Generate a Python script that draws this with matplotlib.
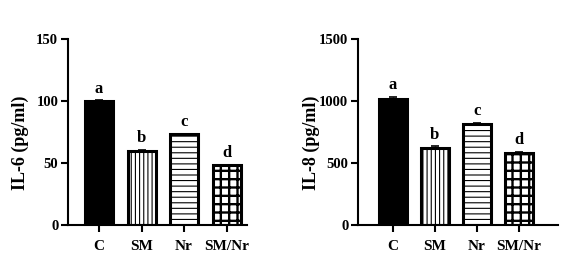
import matplotlib
matplotlib.use("Agg")
import matplotlib.pyplot as plt
import numpy as np

plt.rcParams['font.family'] = ['Liberation Serif', 'DejaVu Serif']
plt.rcParams['font.weight'] = 'bold'

categories = ["C", "SM", "Nr", "SM/Nr"]
il6_values = [100, 60, 73, 48]
il6_err = [0.6, 0.6, 0.6, 0.5]
il8_values = [1018, 625, 815, 583]
il8_err = [14, 10, 8, 5]
letters = ["a", "b", "c", "d"]
hatches = ["", "||||", "---", "++"]
hatch_lw = [1.0, 0.8, 0.8, 1.7]
facecolors = ["black", "white", "white", "white"]

fig = plt.figure(figsize=(5.8, 2.72), dpi=100)
ax1 = fig.add_axes([68/580, 1-225/272, 179/580, 186/272])
ax2 = fig.add_axes([358/580, 1-225/272, 200/580, 186/272])

def draw(ax, vals, errs, ymax, yticks, ylabel, xlim, label_off, ylab_x):
    x = np.arange(len(categories))
    for i in range(len(categories)):
        plt.rcParams['hatch.linewidth'] = hatch_lw[i]
        bars = ax.bar(x[i], vals[i], width=0.66, color=facecolors[i], edgecolor="black",
                      linewidth=2.2, hatch=hatches[i], zorder=2)
        for b in bars:
            try:
                b.set_hatch_linewidth(hatch_lw[i])
            except Exception:
                pass
        ax.errorbar(x[i], vals[i], yerr=[[0], [errs[i]]], color="black",
                    capsize=3, elinewidth=1, capthick=1.2, zorder=3)
        ax.text(x[i], vals[i] + errs[i] + label_off, letters[i], ha="center",
                va="bottom", fontsize=12, fontweight="bold")
    ax.set_ylim(0, ymax)
    ax.set_xlim(*xlim)
    ax.set_yticks(yticks)
    ax.set_xticks(x)
    ax.set_xticklabels(categories, fontsize=11, fontweight="bold")
    ax.tick_params(axis="y", labelsize=10.5, width=1.5, length=5, pad=2)
    ax.tick_params(axis="x", width=1.5, length=5, pad=6)
    for lab in ax.get_yticklabels():
        lab.set_fontweight("bold")
    ax.spines["top"].set_visible(False)
    ax.spines["right"].set_visible(False)
    ax.spines["left"].set_linewidth(1.5)
    ax.spines["bottom"].set_linewidth(1.5)
    ax.set_ylabel(ylabel, fontsize=13, fontweight="bold")
    ax.yaxis.set_label_coords(ylab_x, 0.44)

draw(ax1, il6_values, il6_err, 150, [0, 50, 100, 150], "IL-6 (pg/ml)", (-0.73, 3.48), 3, -0.218)
draw(ax2, il8_values, il8_err, 1500, [0, 500, 1000, 1500], "IL-8 (pg/ml)", (-0.83, 3.93), 30, -0.19)

fig.savefig("out.png", dpi=100)
